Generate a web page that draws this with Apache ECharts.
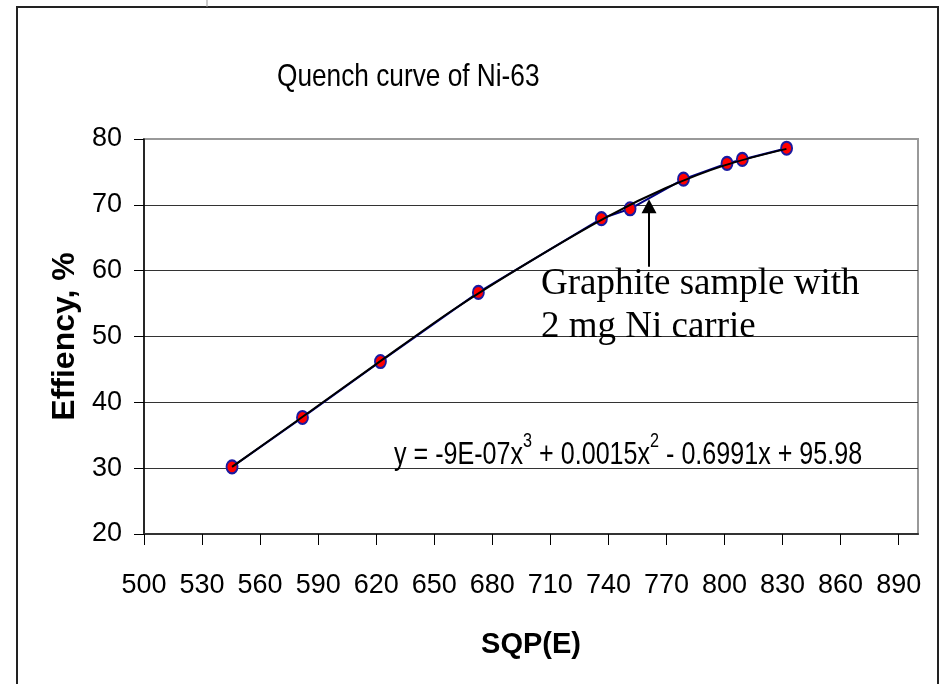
<!DOCTYPE html>
<html>
<head>
<meta charset="utf-8">
<script src="https://cdn.jsdelivr.net/npm/echarts@6/dist/echarts.min.js"></script>
<style>
html,body{margin:0;padding:0;background:#fff;}
#chart{width:948px;height:684px;}
</style>
</head>
<body>
<div id="chart"></div>
<script>
// ---- data ----
const sqpValues = [545.5, 581.9, 622.2, 672.8, 736.4, 751.2, 778.8, 801.3, 809.2, 832.1];
const efficiencyValues = [30.2, 37.7, 46.2, 56.7, 67.9, 69.4, 73.9, 76.3, 76.9, 78.6];
const trendX = [545.5, 580, 620, 660, 700, 740, 770, 800, 832];
const trendY = [30.2, 37.4, 45.8, 54.1, 61.5, 68.3, 72.6, 76.0, 78.5];
const xTickLabels = [500, 530, 560, 590, 620, 650, 680, 710, 740, 770, 800, 830, 860, 890];
const yTickLabels = [20, 30, 40, 50, 60, 70, 80];
const arrowFrom = [761, 60.6];
const arrowTo = [761, 69.8];

const SANS = '"Liberation Sans",Arial,sans-serif';

const chart = echarts.init(document.getElementById('chart'));
const option = {
  backgroundColor: '#fff',
  animation: false,
  grid: {
    left: 144, top: 139, width: 774, height: 395,
    show: true, borderColor: '#999', borderWidth: 2, backgroundColor: 'transparent'
  },
  xAxis: {
    type: 'value', min: 500, max: 900, interval: 30,
    name: 'SQP(E)', nameLocation: 'middle', nameGap: 96,
    nameTextStyle: { fontFamily: SANS, fontWeight: 'bold', fontSize: 29, color: '#000' },
    axisLine: { show: true, onZero: false, lineStyle: { color: '#333', width: 2 } },
    axisTick: { show: true, length: 11, customValues: xTickLabels, lineStyle: { color: '#000', width: 1 } },
    axisLabel: { customValues: xTickLabels, margin: 38, fontFamily: SANS, fontSize: 27, color: '#000' },
    splitLine: { show: false }
  },
  yAxis: {
    type: 'value', min: 20, max: 80, interval: 10,
    name: 'Effiency, %', nameLocation: 'middle', nameGap: 60, nameRotate: 90,
    nameTextStyle: { fontFamily: SANS, fontWeight: 'bold', fontSize: 32, color: '#000' },
    axisLine: { show: true, onZero: false, lineStyle: { color: '#000', width: 1.5 } },
    axisTick: { show: true, length: 10, lineStyle: { color: '#000', width: 1 } },
    axisLabel: { margin: 22, fontFamily: SANS, fontSize: 27, color: '#000',
      formatter: function (v) { return yTickLabels.indexOf(v) >= 0 ? String(v) : ''; } },
    splitLine: { show: true, lineStyle: { color: ['#333', '#333', '#333', '#333', '#333', '#333', '#999'], width: 1 } }
  },
  series: [
    {
      type: 'line', name: 'data',
      data: sqpValues.map((x, i) => [x, efficiencyValues[i]]),
      symbol: 'circle', symbolSize: [11, 13],
      itemStyle: { color: '#ff0000', borderColor: '#1a1aa0', borderWidth: 2 },
      lineStyle: { color: '#000080', width: 2 },
      z: 3,
      markLine: {
        silent: true, symbol: ['none', 'triangle'], symbolSize: [15, 14],
        lineStyle: { color: '#000', width: 2, type: 'solid' },
        label: { show: false },
        data: [[{ coord: arrowFrom }, { coord: arrowTo }]]
      }
    },
    {
      type: 'line', name: 'trend',
      data: trendX.map((x, i) => [x, trendY[i]]),
      symbol: 'none', smooth: 0.3,
      lineStyle: { color: '#000', width: 2 },
      z: 4
    }
  ],
  graphic: [
    { type: 'rect', shape: { x: 17, y: 7, width: 921, height: 720 }, style: { fill: 'none', stroke: '#222', lineWidth: 2 }, silent: true, z: 0 },
    { type: 'line', shape: { x1: 207, y1: 0, x2: 207, y2: 7 }, style: { stroke: '#999', lineWidth: 1 }, silent: true },
    { type: 'text', x: 277, y: 61, scaleX: 0.82, style: { text: 'Quench curve of Ni-63', font: '32px ' + SANS, fill: '#000' } },
    { type: 'text', left: 541, top: 263, style: { text: 'Graphite sample with\n2 mg Ni carrie', font: '37px "Liberation Serif","Times New Roman",serif', lineHeight: 43, fill: '#000' }, z: 10 },
    { type: 'text', x: 394, y: 431, scaleX: 0.81, z: 10, style: {
        text: '{m|y = -9E-07x}{s|3}{m| + 0.0015x}{s|2}{m| - 0.6991x + 95.98}',
        rich: {
          m: { fontFamily: SANS, fontSize: 31, lineHeight: 40, verticalAlign: 'bottom', fill: '#000' },
          s: { fontFamily: SANS, fontSize: 20, lineHeight: 20, verticalAlign: 'top', fill: '#000' }
        }
    } }
  ]
};
chart.setOption(option);
</script>
</body>
</html>
